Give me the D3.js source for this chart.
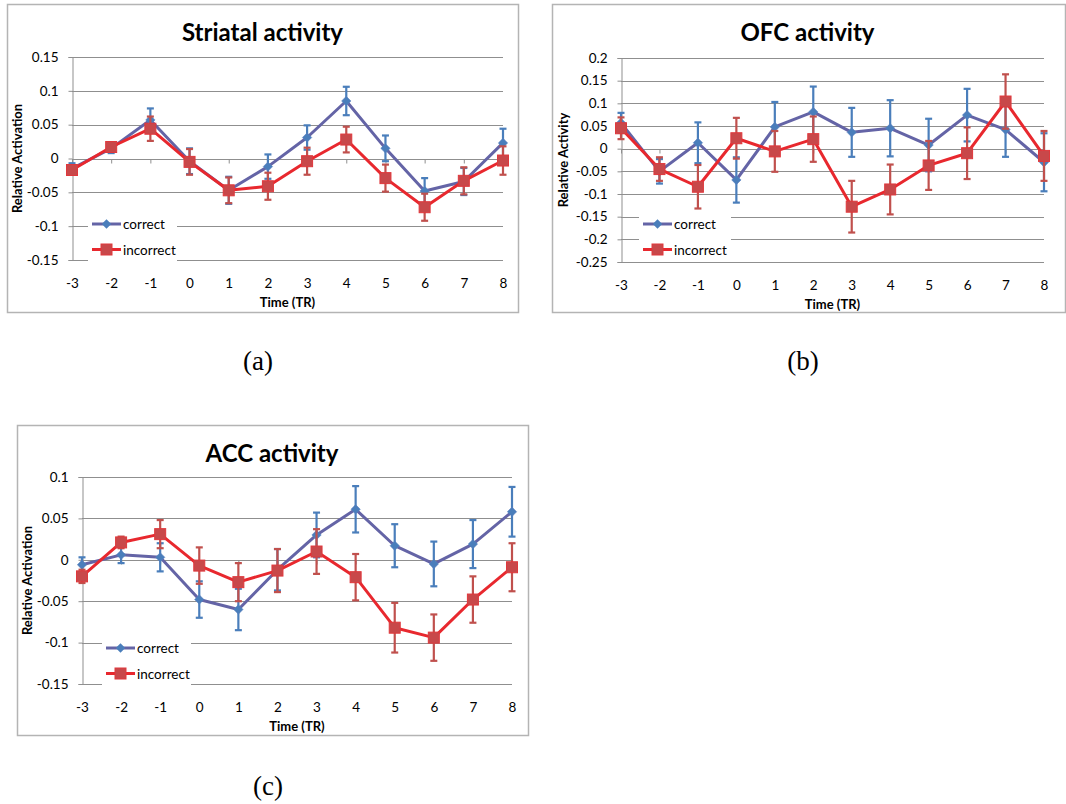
<!DOCTYPE html>
<html>
<head>
<meta charset="utf-8">
<script src="https://cdn.jsdelivr.net/npm/d3@7"></script>
<style>
  html, body { margin: 0; padding: 0; background: #fff; }
  svg { display: block; }
  text { font-family: Lato, "Open Sans", sans-serif; fill: #000; }
</style>
</head>
<body>
<svg id="chart" width="1066" height="804"></svg>
<script>
// ---------- data ----------
const times = [-3, -2, -1, 0, 1, 2, 3, 4, 5, 6, 7, 8];
const seriesNames = ["correct", "incorrect"];

const striatalCorrect      = [-0.015, 0.015, 0.057, -0.004, -0.047, -0.012, 0.031, 0.085, 0.015, -0.048, -0.034, 0.023];
const striatalCorrectErr   = [0.008, 0.007, 0.017, 0.019, 0.020, 0.018, 0.018, 0.021, 0.019, 0.019, 0.020, 0.021];
const striatalIncorrect    = [-0.017, 0.017, 0.044, -0.005, -0.047, -0.041, -0.004, 0.028, -0.029, -0.072, -0.033, -0.003];
const striatalIncorrectErr = [0.007, 0.005, 0.018, 0.019, 0.019, 0.020, 0.020, 0.019, 0.020, 0.020, 0.020, 0.021];
const striatalTicks = [0.15, 0.1, 0.05, 0, -0.05, -0.1, -0.15];

const ofcCorrect      = [0.057, -0.050, 0.013, -0.069, 0.048, 0.081, 0.036, 0.045, 0.008, 0.074, 0.042, -0.030];
const ofcCorrectErr   = [0.022, 0.027, 0.045, 0.050, 0.055, 0.056, 0.054, 0.062, 0.058, 0.058, 0.060, 0.064];
const ofcIncorrect    = [0.045, -0.045, -0.084, 0.023, -0.006, 0.021, -0.128, -0.090, -0.037, -0.010, 0.104, -0.016];
const ofcIncorrectErr = [0.024, 0.026, 0.048, 0.045, 0.045, 0.050, 0.057, 0.055, 0.054, 0.057, 0.060, 0.055];
const ofcTicks = [0.2, 0.15, 0.1, 0.05, 0, -0.05, -0.1, -0.15, -0.2, -0.25];

const accCorrect      = [-0.006, 0.006, 0.003, -0.048, -0.060, -0.012, 0.030, 0.061, 0.017, -0.005, 0.019, 0.058];
const accCorrectErr   = [0.009, 0.010, 0.017, 0.022, 0.025, 0.025, 0.027, 0.028, 0.026, 0.027, 0.029, 0.030];
const accIncorrect    = [-0.020, 0.021, 0.031, -0.007, -0.027, -0.013, 0.010, -0.021, -0.082, -0.094, -0.048, -0.009];
const accIncorrectErr = [0.008, 0.007, 0.017, 0.022, 0.023, 0.026, 0.027, 0.028, 0.030, 0.028, 0.028, 0.029];
const accTicks = [0.1, 0.05, 0, -0.05, -0.1, -0.15];

const titles = ["Striatal activity", "OFC activity", "ACC activity"];
const yLabels = ["Relative Activation", "Relative Activity", "Relative Activation"];
const xLabel = "Time (TR)";
const captions = ["(a)", "(b)", "(c)"];

// ---------- layout ----------
const panels = [
  { title: titles[0], yLabel: yLabels[0], caption: captions[0], ticks: striatalTicks,
    correct: striatalCorrect, correctErr: striatalCorrectErr, incorrect: striatalIncorrect, incorrectErr: striatalIncorrectErr,
    frame: [7, 4, 518, 312], plot: [72, 57, 503, 260], yLabelX: 22, legend: [92, 224], legendW: 89,
    captionPos: [258, 370] },
  { title: titles[1], yLabel: yLabels[1], caption: captions[1], ticks: ofcTicks,
    correct: ofcCorrect, correctErr: ofcCorrectErr, incorrect: ofcIncorrect, incorrectErr: ofcIncorrectErr,
    frame: [552, 4, 1065, 312], plot: [621, 58, 1044, 262], yLabelX: 568, legend: [643, 224], legendW: 92,
    captionPos: [803, 370] },
  { title: titles[2], yLabel: yLabels[2], caption: captions[2], ticks: accTicks,
    correct: accCorrect, correctErr: accCorrectErr, incorrect: accIncorrect, incorrectErr: accIncorrectErr,
    frame: [17, 425, 528, 735], plot: [82, 477, 512, 684], yLabelX: 32, legend: [106, 648], legendW: 89,
    captionPos: [268, 795] }
];

const colors = {
  correctLine: "#6464a6", correctMarker: "#4a7ebb", correctErr: "#4a7ebb",
  incorrectLine: "#e8282e", incorrectMarker: "#c8484a", incorrectMarkerStroke: "#e0383c", incorrectErr: "#c0504d",
  grid: "#8f8f8f", frame: "#b4b4b4"
};

const svg = d3.select("#chart");

panels.forEach(p => {
  const g = svg.append("g");
  const [fx0, fy0, fx1, fy1] = p.frame;
  const [px0, py0, px1, py1] = p.plot;

  g.append("rect").attr("x", fx0 + 0.5).attr("y", fy0 + 0.5)
    .attr("width", fx1 - fx0).attr("height", fy1 - fy0)
    .attr("fill", "#fff").attr("stroke", colors.frame).attr("stroke-width", 1.5);

  const x = d3.scalePoint().domain(times).range([px0, px1]);
  const y = d3.scaleLinear().domain([d3.min(p.ticks), d3.max(p.ticks)]).range([py1, py0]);

  // gridlines
  g.append("g").selectAll("line").data(p.ticks).join("line")
    .attr("x1", px0).attr("x2", px1)
    .attr("y1", d => Math.round(y(d)) + 0.5).attr("y2", d => Math.round(y(d)) + 0.5)
    .attr("stroke", colors.grid).attr("stroke-width", 1);

  // y axis
  const yAxis = g.append("g").attr("transform", `translate(${px0 + 0.5},0)`)
    .call(d3.axisLeft(y).tickValues(p.ticks).tickSize(4).tickPadding(10).tickFormat(d => String(d)));
  yAxis.select(".domain").attr("stroke", colors.grid);
  yAxis.selectAll(".tick line").attr("stroke", colors.grid);
  yAxis.selectAll("text").style("font-size", "13.5px").style("font-family", "Lato, sans-serif").attr("fill", "#000");

  // x tick marks at y=0
  const y0 = Math.round(y(0)) + 0.5;
  const xTickAxis = g.append("g").attr("transform", `translate(0,${y0})`)
    .call(d3.axisBottom(x).tickSize(4).tickFormat(""));
  xTickAxis.select(".domain").remove();
  xTickAxis.selectAll(".tick line").attr("stroke", colors.grid);

  // x labels at bottom
  const xLab = g.append("g").attr("transform", `translate(0,${py1})`)
    .call(d3.axisBottom(x).tickSize(0).tickPadding(18).tickFormat(d => String(d)));
  xLab.select(".domain").remove();
  xLab.selectAll("text").style("font-size", "13.5px").style("font-family", "Lato, sans-serif").attr("fill", "#000");

  // axis titles
  g.append("text").attr("x", (px0 + px1) / 2).attr("y", py1 + 47)
    .attr("text-anchor", "middle").style("font-size", "13px").style("font-weight", "bold").text(xLabel);
  g.append("text").attr("transform", `translate(${p.yLabelX},${(py0 + py1) / 2}) rotate(-90)`)
    .attr("text-anchor", "middle").style("font-size", "13px").style("font-weight", "bold").text(p.yLabel);

  // chart title
  g.append("text").attr("x", (px0 + px1) / 2 - 25).attr("y", fy0 + 37)
    .attr("text-anchor", "middle").style("font-size", "24px").style("font-weight", "bold").text(p.title);

  // legend background
  const [lx, ly] = p.legend;
  g.append("rect").attr("x", lx - 4).attr("y", ly - 14).attr("width", p.legendW).attr("height", 52).attr("fill", "#fff");

  // series
  const series = [
    { vals: p.correct, err: p.correctErr, line: colors.correctLine, errC: colors.correctErr, kind: "diamond" },
    { vals: p.incorrect, err: p.incorrectErr, line: colors.incorrectLine, errC: colors.incorrectErr, kind: "square" }
  ];
  series.forEach(s => {
    const pts = times.map((t, i) => ({ t, v: s.vals[i], e: s.err[i] }));
    g.append("path").datum(pts)
      .attr("d", d3.line().x(d => x(d.t)).y(d => y(d.v)))
      .attr("fill", "none").attr("stroke", s.line).attr("stroke-width", 3).attr("stroke-linejoin", "round");
    const eb = g.append("g").attr("stroke", s.errC).attr("stroke-width", 2.2);
    eb.selectAll("line.v").data(pts).join("line").attr("class", "v")
      .attr("x1", d => x(d.t)).attr("x2", d => x(d.t))
      .attr("y1", d => y(d.v - d.e)).attr("y2", d => y(d.v + d.e));
    eb.selectAll("line.t").data(pts).join("line").attr("class", "t")
      .attr("x1", d => x(d.t) - 3.5).attr("x2", d => x(d.t) + 3.5)
      .attr("y1", d => y(d.v + d.e)).attr("y2", d => y(d.v + d.e));
    eb.selectAll("line.b").data(pts).join("line").attr("class", "b")
      .attr("x1", d => x(d.t) - 3.5).attr("x2", d => x(d.t) + 3.5)
      .attr("y1", d => y(d.v - d.e)).attr("y2", d => y(d.v - d.e));
    if (s.kind === "diamond") {
      g.append("g").selectAll("path").data(pts).join("path")
        .attr("transform", d => `translate(${x(d.t)},${y(d.v)}) rotate(45)`)
        .attr("d", d3.symbol().type(d3.symbolSquare).size(44)())
        .attr("fill", colors.correctMarker).attr("stroke", "#5b7fc0").attr("stroke-width", 0.5);
    } else {
      g.append("g").selectAll("rect").data(pts).join("rect")
        .attr("x", d => x(d.t) - 5.5).attr("y", d => y(d.v) - 5.5)
        .attr("width", 11).attr("height", 11)
        .attr("fill", colors.incorrectMarker).attr("stroke", colors.incorrectMarkerStroke).attr("stroke-width", 1);
    }
  });

  // legend entries
  seriesNames.forEach((name, i) => {
    const yy = ly + i * 25.5;
    const isC = i === 0;
    g.append("line").attr("x1", lx).attr("x2", lx + 29).attr("y1", yy).attr("y2", yy)
      .attr("stroke", isC ? colors.correctLine : colors.incorrectLine).attr("stroke-width", 3);
    if (isC) {
      g.append("path").attr("transform", `translate(${lx + 14.5},${yy}) rotate(45)`)
        .attr("d", d3.symbol().type(d3.symbolSquare).size(44)())
        .attr("fill", colors.correctMarker);
    } else {
      g.append("rect").attr("x", lx + 9).attr("y", yy - 5.5).attr("width", 11).attr("height", 11)
        .attr("fill", colors.incorrectMarker).attr("stroke", colors.incorrectMarkerStroke);
    }
    g.append("text").attr("x", lx + 31).attr("y", yy + 5)
      .style("font-size", "13.5px").text(name);
  });

  // caption
  svg.append("text").attr("x", p.captionPos[0]).attr("y", p.captionPos[1])
    .attr("text-anchor", "middle")
    .style("font-family", "'Liberation Serif', 'DejaVu Serif', serif").style("font-size", "27px")
    .text(p.caption);
});
</script>
</body>
</html>
